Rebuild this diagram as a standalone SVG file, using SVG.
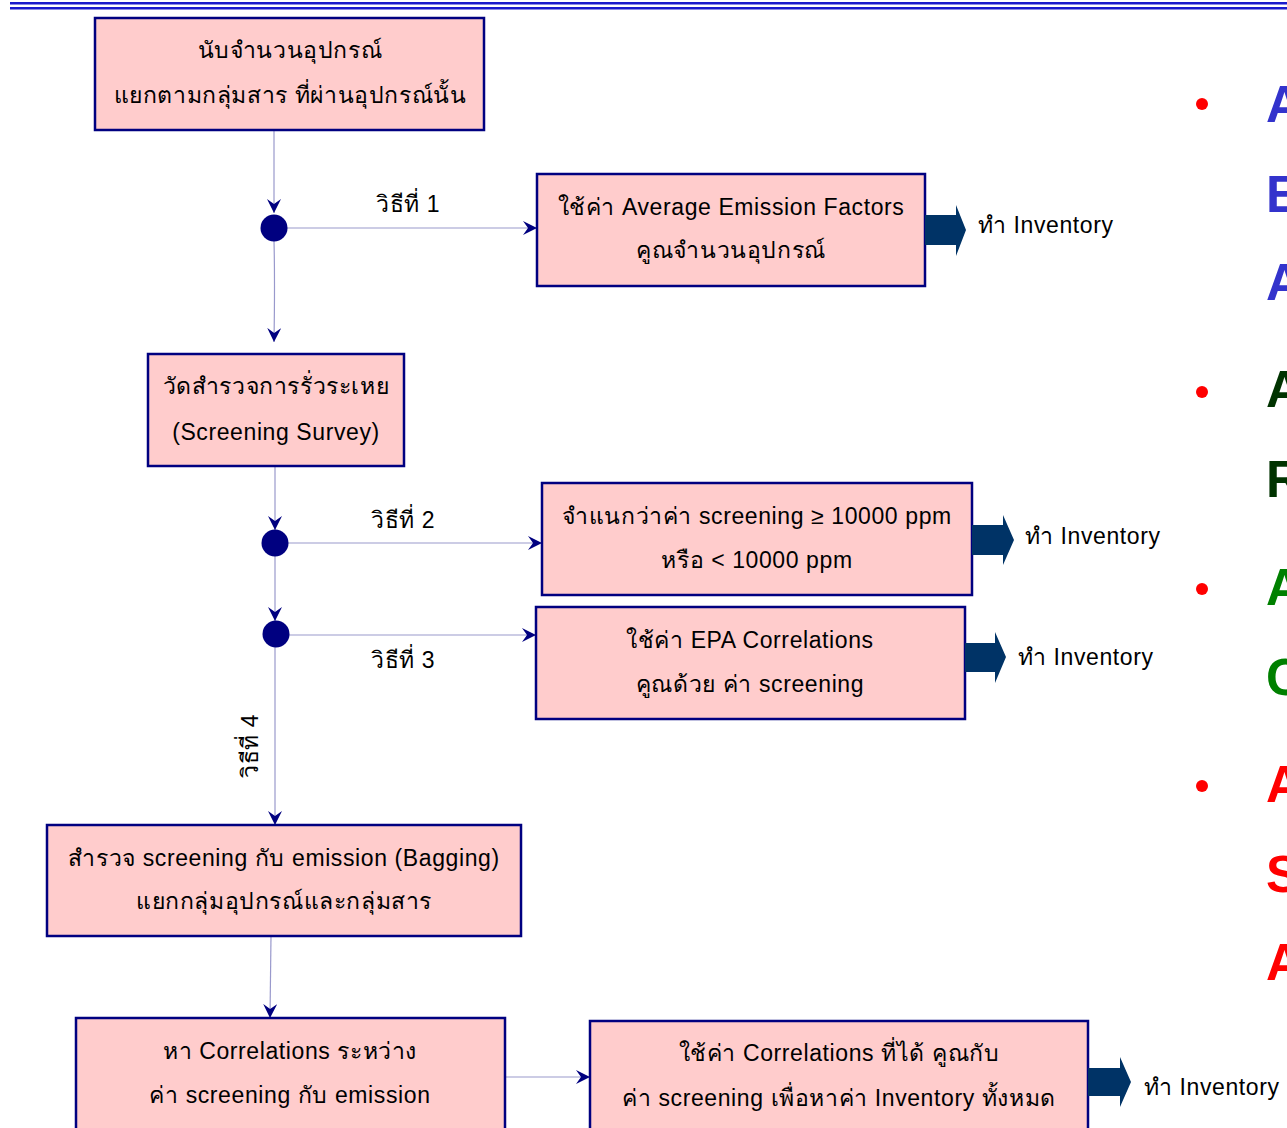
<svg xmlns="http://www.w3.org/2000/svg" width="1287" height="1128" viewBox="0 0 1287 1128">
<style>
.box{fill:#ffcccc;stroke:#000080;stroke-width:2.5}
.t{font-family:"Liberation Sans","Noto Sans","DejaVu Sans",sans-serif;font-size:23px;letter-spacing:0.6px;fill:#000}
.c{text-anchor:middle}
.ln{stroke:#9999cc;stroke-width:1.2;fill:none}
.dot{fill:#000080}
.blk{fill:#003366}
.big{font-family:"Liberation Sans",Arial,sans-serif;font-size:51px;font-weight:bold}
.bul{fill:#ff0000}
</style>
<defs>
<marker id="ah" viewBox="0 0 14 14" refX="14" refY="7" markerWidth="14" markerHeight="14" markerUnits="userSpaceOnUse" orient="auto">
<path d="M0,0 L14,7 L0,14 L5,7 z" fill="#000080"/>
</marker>
</defs>
<rect x="10" y="2" width="1277" height="2.5" fill="#1a1acc"/>
<rect x="10" y="7" width="1277" height="2.5" fill="#1a1acc"/>

<g id="connectors">
<line class="ln" x1="274" y1="130" x2="274" y2="213" marker-end="url(#ah)"/>
<line class="ln" x1="287" y1="228" x2="537" y2="228" marker-end="url(#ah)"/>
<path class="ln" d="M274,241 Q275,280 274,342" marker-end="url(#ah)"/>
<line class="ln" x1="275" y1="466" x2="275" y2="530" marker-end="url(#ah)"/>
<line class="ln" x1="288" y1="543" x2="542" y2="543" marker-end="url(#ah)"/>
<line class="ln" x1="275" y1="556" x2="275" y2="621" marker-end="url(#ah)"/>
<line class="ln" x1="289" y1="635" x2="536" y2="635" marker-end="url(#ah)"/>
<line class="ln" x1="275" y1="647" x2="275" y2="825" marker-end="url(#ah)"/>
<line class="ln" x1="271" y1="936" x2="270" y2="1018" marker-end="url(#ah)"/>
<line class="ln" x1="505" y1="1077" x2="590" y2="1077" marker-end="url(#ah)"/>
<text class="t" x="376" y="212">วิธีที่ 1</text>
<text class="t" x="371" y="528">วิธีที่ 2</text>
<text class="t" x="371" y="668">วิธีที่ 3</text>
<text class="t" transform="translate(258,778) rotate(-90)">วิธีที่ 4</text>
</g>

<g id="dot1"><circle class="dot" cx="274" cy="228" r="13.5"/></g>
<g id="dot2"><circle class="dot" cx="275" cy="543" r="13.5"/></g>
<g id="dot3"><circle class="dot" cx="276" cy="634" r="13.5"/></g>

<g id="box1">
<rect class="box" x="95" y="18" width="389" height="112"/>
<text class="t c" x="290" y="58">นับจำนวนอุปกรณ์</text>
<text class="t c" x="290" y="103">แยกตามกลุ่มสาร ที่ผ่านอุปกรณ์นั้น</text>
</g>
<g id="box2">
<rect class="box" x="537" y="174" width="388" height="112"/>
<text class="t c" x="731" y="215">ใช้ค่า Average Emission Factors</text>
<text class="t c" x="731" y="258">คูณจำนวนอุปกรณ์</text>
</g>
<g id="out1">
<path class="blk" d="M925,215 H956 V205 L966,230 L956,256 V245 H925 z"/>
<text class="t" x="978" y="233">ทำ Inventory</text>
</g>
<g id="box3">
<rect class="box" x="148" y="354" width="256" height="112"/>
<text class="t c" x="276" y="394">วัดสำรวจการรั่วระเหย</text>
<text class="t c" x="276" y="440">(Screening Survey)</text>
</g>
<g id="box4">
<rect class="box" x="542" y="483" width="430" height="112"/>
<text class="t c" x="757" y="524">จำแนกว่าค่า screening ≥ 10000 ppm</text>
<text class="t c" x="757" y="568">หรือ &lt; 10000 ppm</text>
</g>
<g id="out2">
<path class="blk" d="M972,525 H1003 V515 L1014,540 L1003,565 V555 H972 z"/>
<text class="t" x="1025" y="544">ทำ Inventory</text>
</g>
<g id="box5">
<rect class="box" x="536" y="607" width="429" height="112"/>
<text class="t c" x="750" y="648">ใช้ค่า EPA Correlations</text>
<text class="t c" x="750" y="692">คูณด้วย ค่า screening</text>
</g>
<g id="out3">
<path class="blk" d="M965,643 H995 V632 L1006,657 L995,683 V672 H965 z"/>
<text class="t" x="1018" y="665">ทำ Inventory</text>
</g>
<g id="box6">
<rect class="box" x="47" y="825" width="474" height="111"/>
<text class="t c" x="284" y="866">สำรวจ screening กับ emission (Bagging)</text>
<text class="t c" x="284" y="909">แยกกลุ่มอุปกรณ์และกลุ่มสาร</text>
</g>
<g id="box7">
<rect class="box" x="76" y="1018" width="429" height="125"/>
<text class="t c" x="290" y="1059">หา Correlations ระหว่าง</text>
<text class="t c" x="290" y="1103">ค่า screening กับ emission</text>
</g>
<g id="box8">
<rect class="box" x="590" y="1021" width="498" height="122"/>
<text class="t c" x="839" y="1061">ใช้ค่า Correlations ที่ได้ คูณกับ</text>
<text class="t c" x="839" y="1106">ค่า screening เพื่อหาค่า Inventory ทั้งหมด</text>
</g>
<g id="out4">
<path class="blk" d="M1088,1068 H1120 V1057 L1131,1082 L1120,1107 V1096 H1088 z"/>
<text class="t" x="1144" y="1095">ทำ Inventory</text>
</g>

<g id="bullets">
<circle class="bul" cx="1202" cy="104" r="6"/>
<circle class="bul" cx="1202" cy="392" r="6"/>
<circle class="bul" cx="1202" cy="589" r="6"/>
<circle class="bul" cx="1202" cy="786" r="6"/>
<text class="big" x="1266" y="122" fill="#3333cc">A</text>
<text class="big" x="1266" y="212" fill="#3333cc">E</text>
<text class="big" x="1266" y="300" fill="#3333cc">A</text>
<text class="big" x="1266" y="407" fill="#003300">A</text>
<text class="big" x="1266" y="497" fill="#003300">R</text>
<text class="big" x="1266" y="605" fill="#008000">A</text>
<text class="big" x="1266" y="695" fill="#008000">C</text>
<text class="big" x="1266" y="802" fill="#ff0000">A</text>
<text class="big" x="1266" y="892" fill="#ff0000">S</text>
<text class="big" x="1266" y="980" fill="#ff0000">A</text>
</g>
</svg>
